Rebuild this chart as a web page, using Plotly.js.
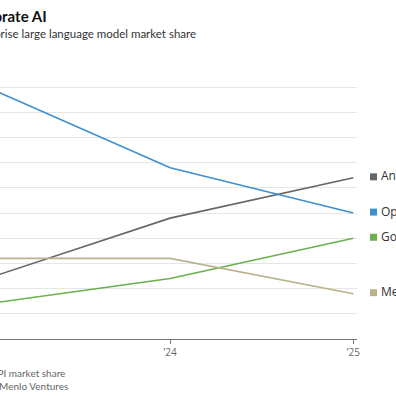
<!DOCTYPE html>
<html><head><meta charset="utf-8">
<script src="https://cdn.plot.ly/plotly-3.0.1.min.js"></script>
<style>
html,body{margin:0;padding:0;overflow:hidden;background:#fff;width:396px;height:396px;}
#chart{position:absolute;left:-60px;top:0;width:456px;height:396px;}
</style>
</head><body>
<div id="chart"></div>
<script>
const years = [2023, 2024, 2025];
const seriesNames = ["Anthropic", "OpenAI", "Google", "Meta"];
const anthropic = [12, 24, 32];
const openai = [50, 34, 25];
const google = [7, 12, 20];
const meta = [16, 16, 9];
const tickVals = [2024, 2025];
const tickText = ["’24", "’25"];
const colors = ["#666666", "#3d8fd0", "#6ab04c", "#b8b38a"];
const values = [anthropic, openai, google, meta];

const traces = values.map((v, i) => ({
  x: years, y: v, type: 'scatter', mode: 'lines', name: seriesNames[i],
  line: {color: colors[i], width: 1.6}, hoverinfo: 'skip'
}));

const annotations = [];
const shapes = [];
values.forEach((v, i) => {
  const last = v[v.length - 1];
  annotations.push({
    xref: 'paper', yref: 'y', x: 1, y: last, xanchor: 'left', yanchor: 'middle',
    xshift: 22, yshift: 2, text: seriesNames[i], showarrow: false,
    font: {family: 'Open Sans, sans-serif', size: 12, color: '#333'}
  });
  shapes.push({
    type: 'rect', xref: 'paper', yref: 'y', xsizemode: 'pixel', ysizemode: 'pixel',
    xanchor: 1, yanchor: last, x0: 13, x1: 20, y0: -2.5, y1: 4.5,
    fillcolor: colors[i], line: {width: 0}
  });
});

// Title, subtitle, notes (positioned in paper coords)
const plotL = 46.7, plotW = 370.3, plotT = 62, plotH = 277.3;
function px(xPage) { return (xPage + 60 - plotL) / plotW; }
function py(yPage) { return 1 - (yPage - plotT) / plotH; }
annotations.push({xref:'paper', yref:'paper', x: px(49), y: py(16), xanchor:'right', yanchor:'middle',
  text:'<b>Corporate AI</b>', showarrow:false, font:{family:'Lato, sans-serif', size:15, color:'#111'}});
annotations.push({xref:'paper', yref:'paper', x: px(198), y: py(33), xanchor:'right', yanchor:'middle',
  text:'Enterprise large language model market share', showarrow:false, font:{family:'Lato, sans-serif', size:11.5, color:'#333'}});
annotations.push({xref:'paper', yref:'paper', x: px(67), y: py(373), xanchor:'right', yanchor:'middle',
  text:'Note: API market share', showarrow:false, font:{family:'Lato, sans-serif', size:10, color:'#666'}});
annotations.push({xref:'paper', yref:'paper', x: px(70), y: py(386.5), xanchor:'right', yanchor:'middle',
  text:'Source: Menlo Ventures', showarrow:false, font:{family:'Lato, sans-serif', size:10, color:'#666'}});

const layout = {
  width: 456, height: 396,
  margin: {l: plotL, r: 456 - plotL - plotW, t: plotT, b: 396 - plotT - plotH, pad: 0},
  paper_bgcolor: '#fff', plot_bgcolor: '#fff',
  showlegend: false,
  xaxis: {range: [2023, 2025.02], tickvals: tickVals, ticktext: tickText,
    showgrid: false, zeroline: false, showline: true, linecolor: '#777', linewidth: 1,
    ticks: 'outside', ticklen: 4, tickcolor: '#777', tickwidth: 1,
    tickfont: {family: 'Open Sans, sans-serif', size: 10, color: '#666'}, fixedrange: true},
  yaxis: {range: [0, 55], dtick: 5, showgrid: true, gridcolor: '#e6e6e6', gridwidth: 1,
    zeroline: false, showticklabels: false, ticks: '', fixedrange: true},
  annotations: annotations, shapes: shapes
};
Plotly.newPlot('chart', traces, layout, {displayModeBar: false, staticPlot: true});
</script>
</body></html>
